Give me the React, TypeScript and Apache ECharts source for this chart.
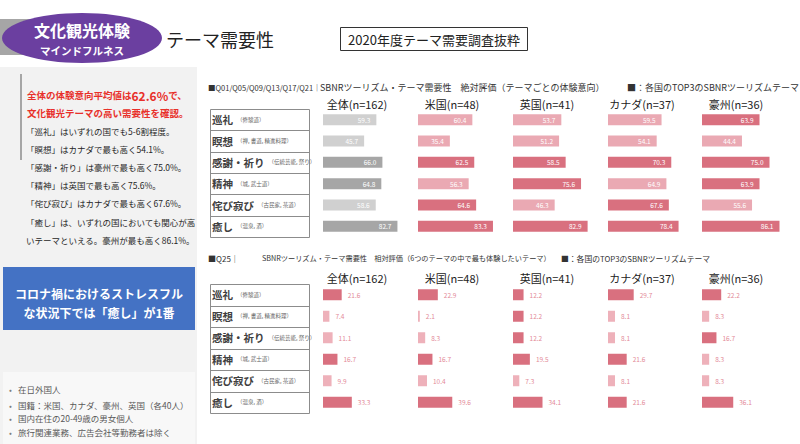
import React, { useEffect, useRef } from "react";
import * as echarts from "echarts";

const FONT = "'Noto Sans CJK JP', 'Noto Sans', sans-serif";

const themes = ["巡礼", "瞑想", "感謝・祈り", "精神", "侘び寂び", "癒し"];
const themeNotes = ["（修験道）", "（禅, 書道, 精進料理）", "（伝統芸能, 祭り）", "（城, 武士道）", "（古民家, 茶道）", "（温泉, 酒）"];
const countries = ["全体(n=162)", "米国(n=48)", "英国(n=41)", "カナダ(n=37)", "豪州(n=36)"];

// 絶対評価（テーマごとの体験意向）
const absZentai = [59.3, 45.7, 66.0, 64.8, 58.6, 82.7];
const absUS = [60.4, 35.4, 62.5, 56.3, 64.6, 83.3];
const absUK = [53.7, 51.2, 58.5, 75.6, 46.3, 82.9];
const absCanada = [59.5, 54.1, 70.3, 64.9, 67.6, 78.4];
const absAustralia = [63.9, 44.4, 75.0, 63.9, 55.6, 86.1];

// 相対評価（6つのテーマの中で最も体験したいテーマ）
const relZentai = [21.6, 7.4, 11.1, 16.7, 9.9, 33.3];
const relUS = [22.9, 2.1, 8.3, 16.7, 10.4, 39.6];
const relUK = [12.2, 12.2, 12.2, 19.5, 7.3, 34.1];
const relCanada = [29.7, 8.1, 8.1, 21.6, 8.1, 21.6];
const relAustralia = [22.2, 8.3, 16.7, 8.3, 8.3, 36.1];

const absData = [absZentai, absUS, absUK, absCanada, absAustralia];
const relData = [relZentai, relUS, relUK, relCanada, relAustralia];

const leftLines = [
  "「巡礼」はいずれの国でも5-6割程度。",
  "「瞑想」はカナダで最も高く54.1%。",
  "「感謝・祈り」は豪州で最も高く75.0%。",
  "「精神」は英国で最も高く75.6%。",
  "「侘び寂び」はカナダで最も高く67.6%。",
  "「癒し」は、いずれの国においても関心が高",
  "いテーマといえる。豪州が最も高く86.1%。",
];
const bullets = [
  "在日外国人",
  "国籍：米国、カナダ、豪州、英国（各40人）",
  "国内在住の20-49歳の男女個人",
  "旅行関連業務、広告会社等勤務者は除く",
];

const colLeft = [323, 418, 513, 608, 702];
const COL_W = 90;

function isTop3(arr: number[], v: number) {
  const s = [...arr].sort((a, b) => b - a);
  return v >= s[2];
}

export default function App() {
  const ref = useRef<HTMLDivElement>(null);
  useEffect(() => {
    if (!ref.current) return;
    const chart = echarts.init(ref.current, null, { renderer: "svg" });

    const grids: any[] = [];
    const xAxes: any[] = [];
    const yAxes: any[] = [];
    const series: any[] = [];
    const boxGraphics: any[] = [];

    const charts = [
      { top: 109, height: 128, data: absData, max: 100, rel: false },
      { top: 284, height: 129, data: relData, max: 104, rel: true },
    ];

    charts.forEach((c) => {
      // label box grid
      const gi = grids.length;
      grids.push({ left: 210, top: c.top, width: 100, height: c.height, containLabel: false });
      xAxes.push({ gridIndex: gi, type: "value", min: 0, max: 1, show: false });
      yAxes.push({
        gridIndex: gi, type: "category", data: themes, inverse: true,
        axisLine: { show: false }, axisTick: { show: false },
        splitLine: { show: false },
        axisLabel: {
          inside: true, margin: 2,
          formatter: (v: string, i: number) => `{n|${v}}{s|${themeNotes[i]}}`,
          rich: {
            n: { fontFamily: FONT, fontSize: 10.5, fontWeight: "bold", color: "#404040" },
            s: { fontFamily: FONT, fontSize: 5.5, color: "#666", padding: [0, 0, 0, 4] },
          },
        },
      });
      series.push({
        type: "bar", xAxisIndex: gi, yAxisIndex: gi, data: themes.map(() => 0),
        itemStyle: { color: "transparent" }, silent: true,
      });
      // box frame and row separators
      const rowH = c.height / themes.length;
      boxGraphics.push({
        type: "rect", shape: { x: 210.5, y: c.top + 0.5, width: 99, height: c.height },
        style: { fill: "#fff", stroke: "#8c8c8c", lineWidth: 1 }, z: -1, silent: true,
      });
      for (let r = 1; r < themes.length; r++) {
        const y = Math.round(c.top + r * rowH) + 0.5;
        boxGraphics.push({
          type: "line", shape: { x1: 210.5, y1: y, x2: 309.5, y2: y },
          style: { stroke: "#8c8c8c", lineWidth: 1 }, z: -1, silent: true,
        });
      }

      c.data.forEach((arr, ci) => {
        const g = grids.length;
        grids.push({ left: colLeft[ci], top: c.top, width: COL_W, height: c.height, containLabel: false });
        xAxes.push({ gridIndex: g, type: "value", min: 0, max: c.max, show: false });
        yAxes.push({ gridIndex: g, type: "category", data: themes, inverse: true, show: false });
        let dark: string, light: string;
        if (c.rel) { dark = "#d9707f"; light = "#eeb1ba"; }
        else if (ci === 0) { dark = "#a6a6a6"; light = "#d0d0d0"; }
        else { dark = "#d9707f"; light = "#eaa9b3"; }
        series.push({
          type: "bar", xAxisIndex: g, yAxisIndex: g, barWidth: 11,
          data: arr.map((v) => ({ value: v, itemStyle: { color: isTop3(arr, v) ? dark : light } })),
          label: c.rel
            ? { show: true, position: "right", distance: 6, color: "#e38a98", fontSize: 6.5, fontFamily: FONT, formatter: (p: any) => p.value.toFixed(1) }
            : { show: true, position: "insideRight", distance: 6, color: "#fff", fontSize: 6.5, fontFamily: FONT, formatter: (p: any) => p.value.toFixed(1) },
          silent: true,
        });
      });
    });

    const txt = (text: string, x: number, y: number, size: number, fill: string, opts: any = {}) => ({
      type: "text", x, y, silent: true,
      style: {
        text, fill, font: `${opts.weight || "normal"} ${size}px ${FONT}`,
        textAlign: opts.align || "left", textVerticalAlign: "middle",
      },
      z: opts.z || 10,
    });

    const graphic: any[] = [
      // left panel
      { type: "rect", shape: { x: 0, y: 67, width: 197, height: 377 }, style: { fill: "#f2f2f2" }, z: 1, silent: true },
      { type: "rect", shape: { x: 3, y: 372, width: 192, height: 72 }, style: { fill: "#f8f8f8" }, z: 2, silent: true },
      { type: "line", shape: { x1: 21, y1: 74, x2: 21, y2: 160 }, style: { stroke: "#a6a6a6", lineWidth: 2 }, z: 3, silent: true },
      {
        type: "text", x: 27, y: 95, silent: true, z: 10,
        style: {
          text: "{a|全体の体験意向平均値は}{b|62.6%}{a|で、}", textVerticalAlign: "middle",
          rich: {
            a: { fontFamily: FONT, fontSize: 9.5, fontWeight: "bold", fill: "#e8302a" },
            b: { fontFamily: FONT, fontSize: 12, fontWeight: "bold", fill: "#e8302a" },
          },
        },
      },
      txt("文化観光テーマの高い需要性を確認。", 27, 113, 9.5, "#e8302a", { weight: "bold" }),
      ...leftLines.map((l, i) => txt(l, 26, [131, 149, 167, 185, 203, 222, 240][i], 8.5, "#262626")),
      { type: "rect", shape: { x: 3, y: 267, width: 192, height: 63 }, style: { fill: "#4472c4" }, z: 3, silent: true },
      txt("コロナ禍におけるストレスフル", 99, 293, 12, "#fff", { weight: "bold", align: "center" }),
      txt("な状況下では「癒し」が1番", 99, 312, 12, "#fff", { weight: "bold", align: "center" }),
      ...bullets.flatMap((b, i) => {
        const y = [389, 405, 418, 432][i];
        return [txt("•", 9, y, 8.5, "#7f7f7f"), txt(b, 18, y, 8.5, "#595959")];
      }),
      // title
      { type: "rect", shape: { x: 0, y: 19, width: 90, height: 36 }, style: { fill: "#a6a6a6" }, z: 3, silent: true },
      { type: "ellipse", shape: { cx: 82, cy: 38, rx: 80, ry: 25 }, style: { fill: "#6b3fa0" }, z: 4, silent: true },
      txt("文化観光体験", 82, 30, 16, "#fff", { weight: "bold", align: "center" }),
      txt("マインドフルネス", 82, 50, 10.5, "#fff", { weight: "bold", align: "center" }),
      txt("テーマ需要性", 166, 39, 18, "#222"),
      { type: "rect", shape: { x: 340.5, y: 27.5, width: 187, height: 23 }, style: { fill: "#fff", stroke: "#333", lineWidth: 1 }, z: 3, silent: true },
      txt("2020年度テーマ需要調査抜粋", 434, 39, 13, "#222", { align: "center" }),
      // chart headers
      txt("■Q01/Q05/Q09/Q13/Q17/Q21｜", 208, 87, 7.5, "#333"),
      txt("SBNRツーリズム・テーマ需要性　絶対評価（テーマごとの体験意向）", 320, 87, 9, "#333"),
      txt("■：各国のTOP3のSBNRツーリズムテーマ", 627, 87, 9, "#333"),
      txt("■Q25｜", 208, 258, 8, "#333"),
      txt("SBNRツーリズム・テーマ需要性　相対評価（6つのテーマの中で最も体験したいテーマ）", 262, 258, 7.2, "#333"),
      txt("■：各国のTOP3のSBNRツーリズムテーマ", 561, 258, 7.8, "#333"),
      ...countries.flatMap((c, i) => [
        txt(c, colLeft[i] + 34, 104, 11, "#222", { align: "center" }),
        txt(c, colLeft[i] + 34, 278, 11, "#222", { align: "center" }),
      ]),
      ...boxGraphics,
    ];

    chart.setOption({
      animation: false,
      backgroundColor: "#fff",
      textStyle: { fontFamily: FONT },
      grid: grids,
      xAxis: xAxes,
      yAxis: yAxes,
      series,
      graphic,
    });
    return () => chart.dispose();
  }, []);
  return <div ref={ref} style={{ position: "fixed", left: 0, top: 0, width: 800, height: 444 }} />;
}
